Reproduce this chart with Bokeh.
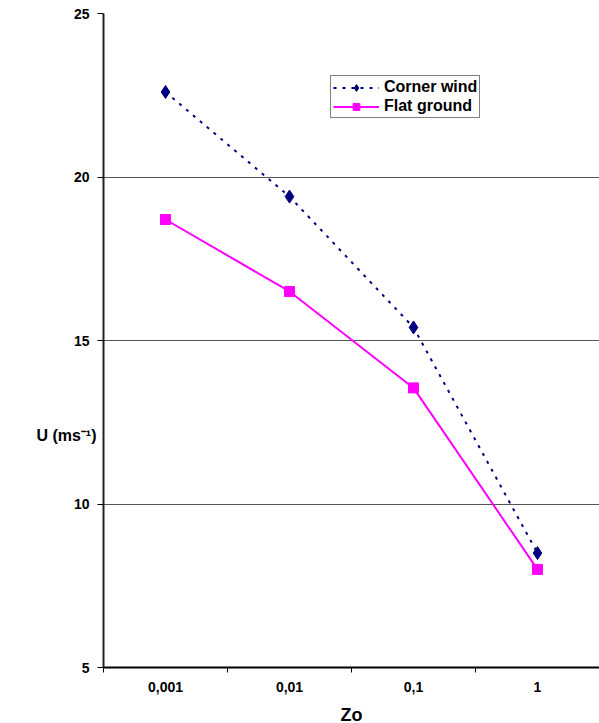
import numpy as np
from bokeh.plotting import figure
from bokeh.models import Range1d, FixedTicker, Legend, LegendItem, LinearAxis
from bokeh.embed import file_html
from bokeh.resources import INLINE

categories = ["0,001", "0,01", "0,1", "1"]
corner_wind = [22.6, 19.4, 15.4, 8.5]
flat_ground = [18.7, 16.5, 13.55, 8.0]
y_ticks = [5, 10, 15, 20, 25]
grid_ticks = [10, 15, 20, 25]
y_title = "U (ms\u207b\u00b9)"
y_title_pos = 12.1

FONT = "Liberation Sans"

xs = list(np.arange(len(categories)) + 0.5)
bounds = list(np.arange(len(categories) + 1).astype(float))

p = figure(frame_width=496, frame_height=654, output_backend="svg",
           toolbar_location=None, x_range=Range1d(0, len(categories)),
           y_range=Range1d(5, 25), min_border_left=103, min_border_top=13,
           min_border_right=0, min_border_bottom=0)
p.outline_line_color = None
p.background_fill_color = "white"
p.border_fill_color = "white"

# grid
p.xgrid.visible = False
p.ygrid.ticker = FixedTicker(ticks=grid_ticks)
p.ygrid.grid_line_color = "#555555"
p.ygrid.grid_line_width = 1.2

# x axis
xa = p.xaxis[0]
xa.ticker = FixedTicker(ticks=xs, minor_ticks=bounds)
xa.major_label_overrides = {float(x): c for x, c in zip(xs, categories)}
xa.major_tick_line_color = None
xa.major_tick_in = 0
xa.major_tick_out = 0
xa.minor_tick_in = 0
xa.minor_tick_out = 5
xa.minor_tick_line_color = "black"
xa.axis_line_color = "black"
xa.axis_line_width = 2
xa.major_label_text_font = FONT
xa.major_label_text_font_style = "bold"
xa.major_label_text_font_size = "14px"
xa.major_label_text_color = "black"
xa.major_label_standoff = 9
xa.axis_label = "Zo"
xa.axis_label_text_font = FONT
xa.axis_label_text_font_style = "bold"
xa.axis_label_text_font_size = "18px"
xa.axis_label_text_color = "black"
xa.axis_label_standoff = 10

# y axis
ya = p.yaxis[0]
ya.ticker = FixedTicker(ticks=y_ticks)
ya.minor_tick_line_color = None
ya.major_tick_in = 0
ya.major_tick_out = 6
ya.major_tick_line_color = "black"
ya.axis_line_color = "#222222"
ya.axis_line_width = 2
ya.major_label_text_font = FONT
ya.major_label_text_font_style = "bold"
ya.major_label_text_font_size = "14px"
ya.major_label_text_color = "black"
ya.major_label_standoff = 8

# horizontal y title, drawn by a second (line-less) axis to the left
ta = LinearAxis(ticker=FixedTicker(ticks=[y_title_pos]),
                major_label_overrides={float(y_title_pos): y_title})
ta.axis_line_color = None
ta.major_tick_line_color = None
ta.minor_tick_line_color = None
ta.major_tick_in = 0
ta.major_tick_out = 0
ta.major_label_standoff = -26
ta.major_label_text_font = FONT
ta.major_label_text_font_style = "bold"
ta.major_label_text_font_size = "16px"
ta.major_label_text_color = "black"
p.add_layout(ta, "left")

# series
cw_line = p.line(xs, corner_wind, line_color="#000080", line_width=2,
                 line_dash="3 6")
cw_mark = p.scatter(xs, corner_wind, marker="diamond", size=13,
                    fill_color="#000080", line_color="#000080")
fg_line = p.line(xs, flat_ground, line_color="#FF00FF", line_width=2)
fg_mark = p.scatter(xs, flat_ground, marker="square", size=10,
                    fill_color="#FF00FF", line_color="#FF00FF")

legend = Legend(items=[
    LegendItem(label="Corner wind", renderers=[cw_line, cw_mark]),
    LegendItem(label="Flat ground", renderers=[fg_line, fg_mark]),
], location=(227, 549))
legend.label_text_font = FONT
legend.label_text_font_style = "bold"
legend.label_text_font_size = "16px"
legend.label_text_color = "black"
legend.glyph_width = 46
legend.glyph_height = 17
legend.label_height = 18
legend.label_standoff = 5
legend.padding = 2
legend.margin = 0
legend.spacing = 1
legend.border_line_color = "black"
legend.border_line_width = 1
legend.background_fill_alpha = 1
p.add_layout(legend)

open("out.html", "w").write(file_html(p, INLINE))
